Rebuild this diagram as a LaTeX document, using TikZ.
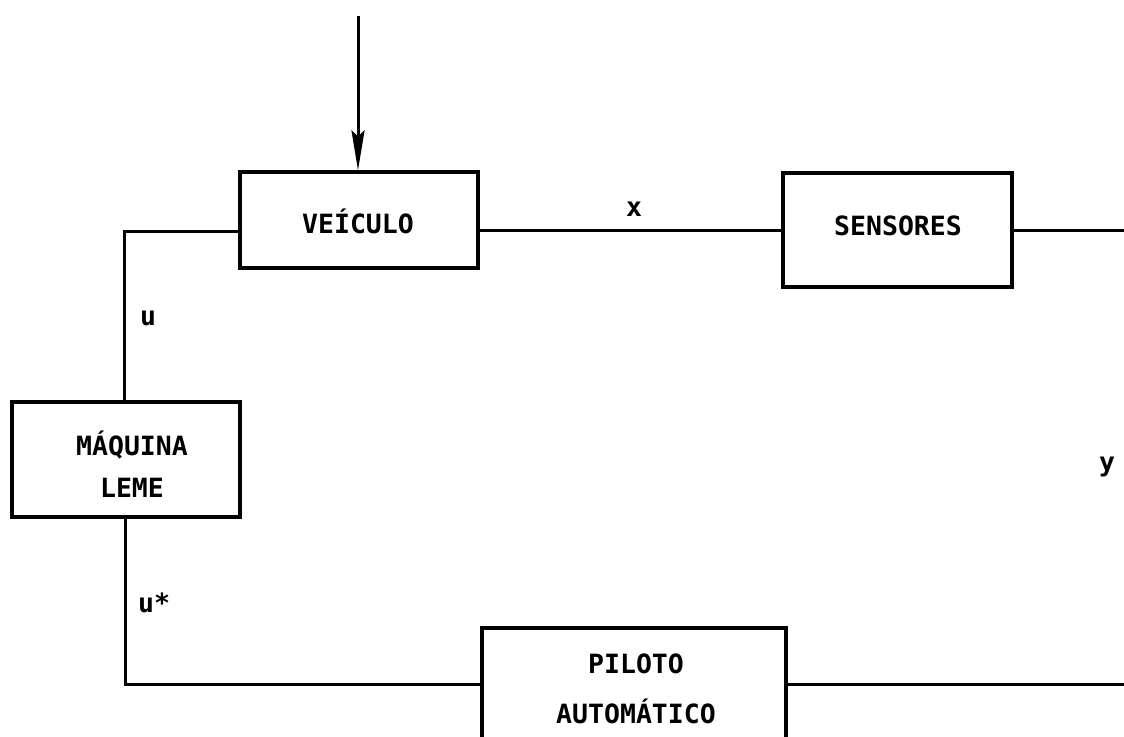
\documentclass[tikz,border=0pt]{standalone}
\usepackage{fontspec}
\setmonofont{DejaVu Sans Mono}
\usetikzlibrary{arrows.meta}
\begin{document}
\begin{tikzpicture}[x=1pt,y=-1pt,
  blk/.style={draw,line width=3.2pt,inner sep=0pt},
  txt/.style={font=\fontsize{26.5}{30}\selectfont\ttfamily\bfseries,inner sep=0pt},
  wire/.style={line width=3pt}]
\useasboundingbox[fill=white] (0,0) rectangle (1124,736);
% blocks
\node[blk,minimum width=238pt,minimum height=96pt] (veh) at (359,220) {};
\node[blk,minimum width=229pt,minimum height=114pt] (sen) at (897.5,230) {};
\node[blk,minimum width=228pt,minimum height=115pt] (maq) at (126,459.5) {};
\node[blk,minimum width=304pt,minimum height=162pt] (pil) at (634,709) {};
% block texts
\node[txt] (tveh) at (358,221) {VEÍCULO};
\node[txt] (tsen) at (898,226) {SENSORES};
\node[txt] (tmaq1) at (132,445) {MÁQUINA};
\node[txt] (tmaq2) at (132,488) {LEME};
\node[txt] (tpil1) at (636,664) {PILOTO};
\node[txt] (tpil2) at (636,711) {AUTOMÁTICO};
% signal labels
\node[txt] (lx) at (634,209) {x};
\node[txt] (lu) at (148,318) {u};
\node[txt] (lus) at (154,603) {u*};
\node[txt] (ly) at (1107,467) {y};
% coordinates
\coordinate (in) at (358,16);
\coordinate (a) at (124,231);
\coordinate (xl) at (630,230);
\coordinate (ro) at (1124,230);
\coordinate (b) at (125,684);
\coordinate (rb) at (1124,684);
% connectors
\draw[wire,-{Stealth[length=40pt,width=13pt,inset=6pt]}] (in) -- (veh.north -| in);
\draw[wire] (veh.west |- a) -- (a) -- (maq.north -| a);
\draw[wire] (veh.east |- xl) -- (sen.west |- xl);
\draw[wire] (sen.east |- ro) -- (ro);
\draw[wire] (maq.south -| b) -- (b) -- (pil.west |- b);
\draw[wire] (pil.east |- rb) -- (rb);
\end{tikzpicture}
\end{document}
